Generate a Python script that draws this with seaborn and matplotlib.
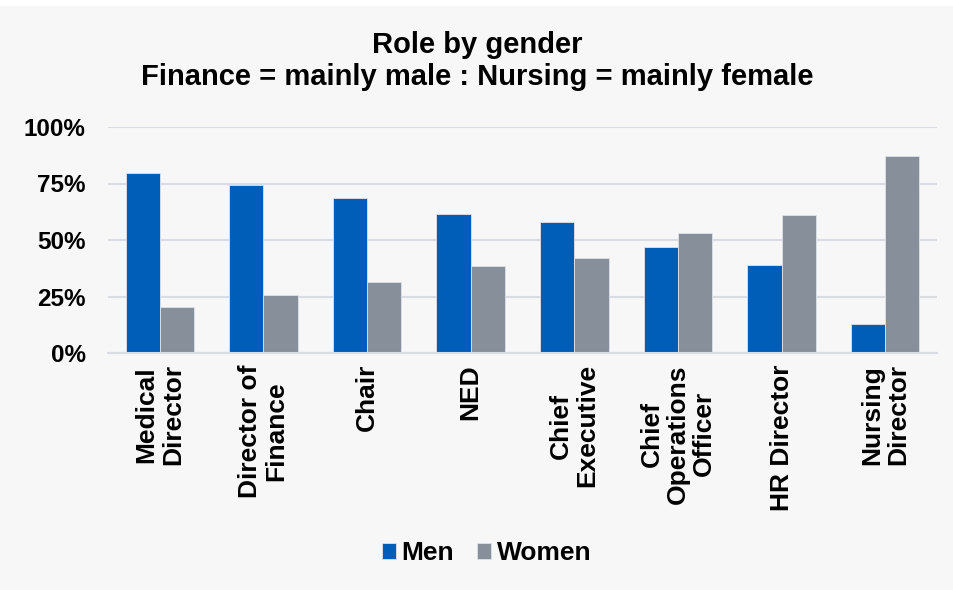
import pandas as pd
import matplotlib.pyplot as plt
import seaborn as sns
from matplotlib.patches import Rectangle
from matplotlib.ticker import PercentFormatter

roles = ["Medical\nDirector", "Director of\nFinance", "Chair", "NED", "Chief\nExecutive",
         "Chief\nOperations\nOfficer", "HR Director", "Nursing\nDirector"]
menShare = [0.795, 0.742, 0.684, 0.613, 0.578, 0.471, 0.391, 0.129]
womenShare = [0.205, 0.258, 0.316, 0.387, 0.422, 0.529, 0.609, 0.871]
yTicks = [0, 0.25, 0.5, 0.75, 1.0]

df = pd.DataFrame({
    "role": roles * 2,
    "share": menShare + womenShare,
    "gender": ["Men"] * len(roles) + ["Women"] * len(roles),
})

sns.set_theme(style="white")
plt.rcParams["font.family"] = ["Liberation Sans", "DejaVu Sans"]
plt.rcParams["font.weight"] = "bold"
plt.rcParams["text.color"] = "black"
plt.rcParams["xtick.color"] = "black"
plt.rcParams["ytick.color"] = "black"

bgColor = "#f7f7f7"
gridColor = "#d9dde3"

fig = plt.figure(figsize=(9.54, 5.9), dpi=100, facecolor="white")
fig.patches.append(Rectangle((0, 0), 1, 1 - 6 / 590, transform=fig.transFigure,
                             facecolor=bgColor, edgecolor="none", zorder=-10))
ax = fig.add_axes([108 / 954, 1 - 353 / 590, (937 - 108) / 954, (353 - 127) / 590])
ax.set_facecolor(bgColor)

sns.barplot(data=df, x="role", y="share", hue="gender", ax=ax,
            palette={"Men": "#005eb8", "Women": "#87909a"}, saturation=1,
            width=0.66, edgecolor="#dde3ea", linewidth=0.6, legend=True)

ax.set_ylim(0, 1)
ax.set_xlim(-0.5, len(roles) - 0.5)
ax.set_yticks(yTicks)
ax.yaxis.set_major_formatter(PercentFormatter(1.0, decimals=0))
ax.yaxis.grid(True, color=gridColor, linewidth=1.5)
ax.set_axisbelow(True)
for side in ["top", "right", "left"]:
    ax.spines[side].set_visible(False)
ax.spines["bottom"].set_color(gridColor)
ax.spines["bottom"].set_linewidth(1.5)
ax.set_xlabel("")
ax.set_ylabel("")
ax.tick_params(axis="y", length=0, pad=16, labelsize=17.5)
ax.tick_params(axis="x", length=0, pad=8, labelsize=19)
for lbl in ax.get_xticklabels():
    lbl.set_rotation(90)
    lbl.set_multialignment("center")
    lbl.set_fontweight("bold")
    lbl.set_linespacing(1.12)
for lbl in ax.get_yticklabels():
    lbl.set_fontweight("bold")

handles, labels = ax.get_legend_handles_labels()
ax.legend_.remove()
fig.legend(handles, labels, loc="center", bbox_to_anchor=(0.51, 1 - 553 / 590), ncol=2,
           frameon=False, prop={"size": 19, "weight": "bold"},
           handlelength=0.55, handleheight=0.55, handletextpad=0.2, columnspacing=0.85)

fig.text(0.5, 1 - 45 / 590, "Role by gender", ha="center", va="center",
         fontsize=21, fontweight="bold")
fig.text(0.5, 1 - 77 / 590, "Finance = mainly male : Nursing = mainly female", ha="center", va="center",
         fontsize=21, fontweight="bold")

fig.savefig("out.png", dpi=100, facecolor="white")
